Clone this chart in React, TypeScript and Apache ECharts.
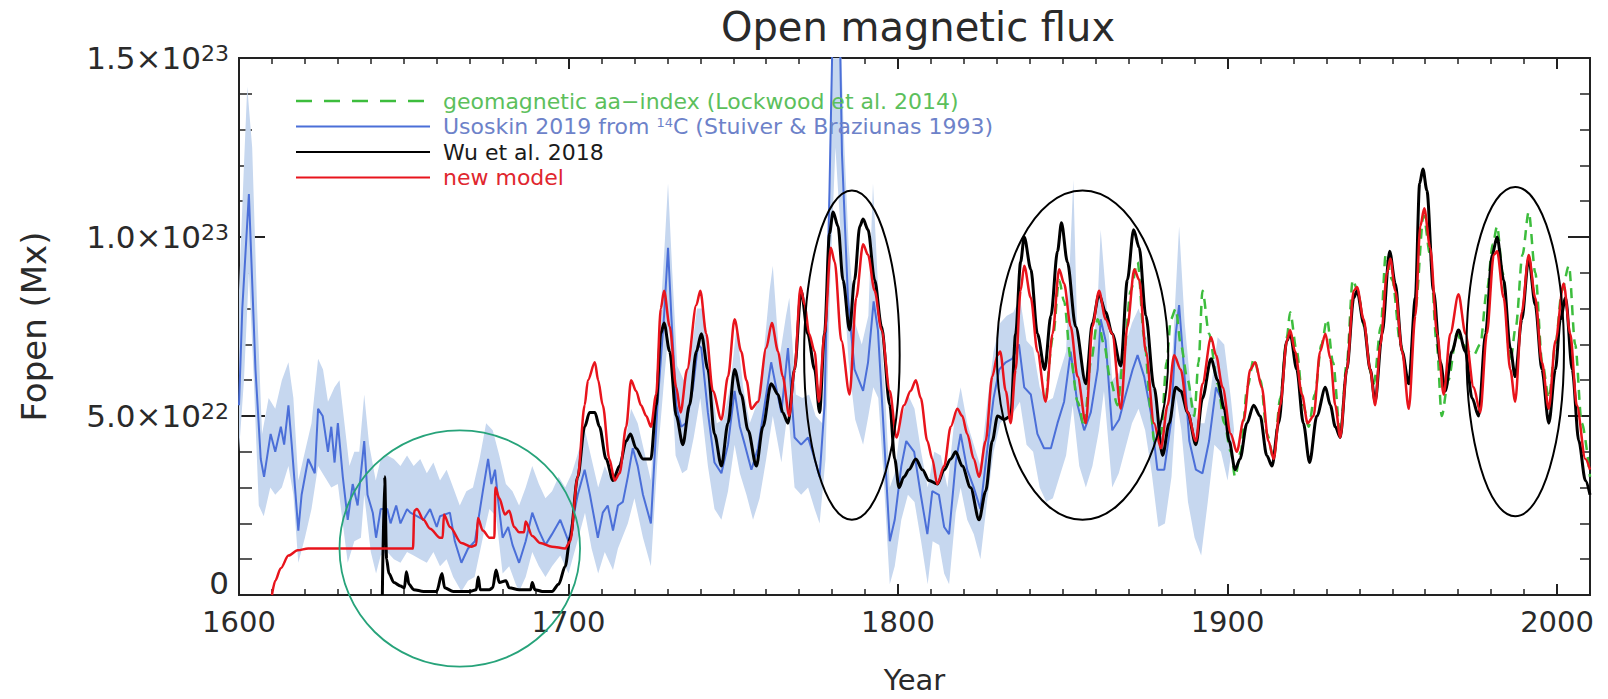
import React, { useEffect, useRef } from 'react';
import * as echarts from 'echarts';

// values are in units of 1e22 Mx
const UNIT = 1e22;

const yearTicks = [1600, 1700, 1800, 1900, 2000];

const usoskin: [number, number][] = [
  [1600, 5.3], [1601, 8.0], [1603, 11.2], [1605, 6.3], [1606.6, 3.8], [1607.6, 3.3], [1609.6, 4.5], [1611, 4.0],
  [1612.7, 4.7], [1613.7, 4.2], [1615, 5.3], [1616, 4.2], [1618, 1.8], [1619, 2.8], [1621, 3.8], [1623, 3.4],
  [1624, 5.2], [1625.4, 5.0], [1627, 4.0], [1628, 4.7], [1629, 3.7], [1630, 4.8], [1631.5, 3.3], [1633, 2.1],
  [1634.5, 3.1], [1636, 2.5], [1638, 4.3], [1639, 2.8], [1640.6, 2.3], [1641.6, 1.6], [1643, 2.4], [1645, 2.4],
  [1646, 2.0], [1647.7, 2.5], [1649, 2.0], [1651, 2.4], [1652, 2.3], [1654, 2.2], [1656, 2.1], [1658, 2.4],
  [1660, 1.9], [1661, 2.2], [1664, 2.3], [1665.5, 1.5], [1667.5, 0.9], [1669.5, 1.3], [1671.6, 1.5], [1674, 2.9],
  [1675.6, 3.8], [1676.6, 3.1], [1677.7, 3.5], [1678.7, 2.6], [1680, 1.6], [1681.7, 1.9], [1683, 1.4], [1685, 0.9],
  [1687, 1.5], [1689, 2.3], [1691, 1.8], [1693, 1.4], [1695, 1.7], [1697.5, 2.1], [1700, 1.5], [1702.8, 2.8],
  [1704.9, 3.5], [1706.5, 2.8], [1708.9, 1.6], [1710.4, 2.3], [1711.9, 2.5], [1713.5, 1.8], [1715, 2.5], [1716.5, 2.6],
  [1718, 3.3], [1719.5, 4.1], [1721, 3.6], [1722.6, 2.8], [1725, 2.0], [1727, 5.3], [1729, 7.8], [1730.2, 9.7],
  [1731.2, 7.8], [1732.7, 5.3], [1734.2, 4.7], [1735.7, 4.8], [1737.8, 5.8], [1739.3, 7.0], [1740.3, 6.9], [1742.3, 5.1],
  [1744.3, 3.7], [1746.4, 3.4], [1748.4, 4.2], [1750.4, 5.7], [1752, 4.7], [1753.5, 4.2], [1755.5, 3.5], [1757.5, 4.1],
  [1759.5, 5.3], [1761.5, 6.5], [1763, 5.8], [1764.6, 5.1], [1766.6, 6.9], [1768.6, 4.4], [1770.6, 4.2], [1772.7, 4.4],
  [1774.7, 3.8], [1776.2, 3.3], [1777.7, 5.3], [1779.2, 11.3], [1780.2, 16], [1782.3, 16], [1783, 12.3], [1784.8, 8.3],
  [1786.8, 6.3], [1789.4, 5.7], [1790.9, 6.5], [1792.6, 8.2], [1793.9, 7.4], [1795.4, 5.0], [1797.5, 1.5], [1799, 2.1],
  [1801, 3.6], [1802.5, 4.3], [1804.9, 4.0], [1806.9, 2.8], [1808.9, 1.7], [1810.4, 2.9], [1812.4, 2.8], [1814, 1.9],
  [1815.5, 1.7], [1817.5, 3.7], [1819, 4.5], [1821, 3.5], [1823, 3.0], [1825, 2.4], [1827, 4.0], [1829, 5.5],
  [1830.7, 6.3], [1832.7, 6.5], [1834.7, 6.6], [1836.7, 7.0], [1838.3, 5.8], [1840.3, 5.6], [1842.3, 4.5], [1844.3, 4.1],
  [1846.4, 4.1], [1848.4, 4.8], [1850.4, 5.4], [1852.4, 6.8], [1854.5, 5.3], [1856.5, 4.6], [1858.5, 5.1], [1860.6, 6.3],
  [1861.5, 7.7], [1863, 7.1], [1865, 4.6], [1867.1, 4.9], [1869.1, 5.6], [1871.2, 6.3], [1872.7, 6.7], [1874.7, 6.1],
  [1876.7, 5.1], [1878.7, 3.5], [1880.8, 3.5], [1882.8, 4.8], [1884.3, 7.3], [1885.3, 8.1], [1886.8, 6.3], [1888.4, 4.3],
  [1890.4, 3.5], [1892.4, 3.4], [1894.4, 4.3], [1896.5, 5.8], [1898, 5.5],
];

const bandUpper: [number, number][] = [
  [1600, 8.5], [1601.5, 12], [1602.5, 14.2], [1604, 12.5], [1605.5, 8], [1607, 4.5], [1609, 5.5], [1611, 5.2],
  [1613, 6.0], [1615, 6.5], [1616.5, 5.5], [1618, 3.2], [1620, 4.0], [1622, 4.8], [1624, 6.6], [1625.5, 6.3],
  [1627, 5.4], [1629, 5.8], [1630.5, 6.0], [1632, 4.8], [1633.5, 3.6], [1635, 4.0], [1636.5, 4.0], [1638, 5.6],
  [1639.5, 4.2], [1641.5, 3.2], [1643, 3.8], [1645, 3.9], [1647, 3.8], [1649, 3.6], [1651, 3.9], [1653, 3.6],
  [1655, 3.8], [1657, 3.4], [1659, 3.7], [1661, 3.2], [1663, 3.5], [1665, 3.0], [1667, 2.5], [1669, 2.9],
  [1671, 3.0], [1673, 3.8], [1675, 4.8], [1677, 4.6], [1679, 3.9], [1681, 3.1], [1683, 2.9], [1685, 2.5],
  [1687, 3.0], [1689, 3.6], [1691, 3.1], [1693, 2.7], [1695, 2.9], [1697, 3.3], [1699, 3.0], [1701, 3.4],
  [1703, 4.0], [1705, 4.6], [1707, 3.8], [1709, 3.0], [1711, 3.6], [1713, 3.2], [1715, 3.6], [1717, 4.2],
  [1719, 5.2], [1721, 4.8], [1723, 4.0], [1725, 3.2], [1727, 6.5], [1729, 9.5], [1730.2, 11.5], [1731.5, 9.0],
  [1733, 6.4], [1735, 6.0], [1737, 6.6], [1739, 8.0], [1741, 8.0], [1743, 6.3], [1745, 4.8], [1747, 4.9],
  [1749, 5.8], [1751, 7.5], [1753, 5.8], [1755, 4.8], [1757, 5.3], [1759, 6.5], [1761, 8.5], [1762, 9.2],
  [1764, 6.6], [1766, 7.8], [1767, 8.3], [1769, 5.6], [1771, 5.5], [1773, 5.6], [1775, 5.0], [1777, 4.8],
  [1778.5, 8.5], [1779.5, 13.5], [1780, 16], [1782.5, 16], [1783.5, 13], [1785, 9.8], [1787, 7.6], [1789, 7.0],
  [1791, 7.8], [1792.4, 11.5], [1794, 8.5], [1796, 5.8], [1797.5, 3.0], [1799, 3.4], [1801, 4.9], [1803, 5.6],
  [1805, 5.2], [1807, 4.0], [1809, 3.0], [1811, 4.0], [1813, 3.9], [1815, 3.0], [1817, 4.8], [1819, 5.8],
  [1821, 4.8], [1823, 4.2], [1825, 3.6], [1827, 5.3], [1829, 6.8], [1831, 7.6], [1833, 7.8], [1835, 7.9],
  [1837, 8.3], [1839, 7.1], [1841, 6.9], [1843, 5.8], [1845, 5.4], [1847, 5.5], [1849, 6.2], [1851, 6.8],
  [1853.2, 11.6], [1854.5, 7.0], [1856.5, 6.0], [1858.5, 6.4], [1860.5, 8.0], [1861.5, 10.2], [1863, 8.5], [1865, 6.0],
  [1867, 6.2], [1869, 7.0], [1871, 7.6], [1873, 8.0], [1875, 7.4], [1877, 6.4], [1879, 4.8], [1881, 4.9],
  [1883, 6.2], [1885.3, 10.3], [1887, 7.6], [1889, 5.6], [1891, 4.8], [1893, 4.8], [1895, 5.8], [1897, 7.2],
  [1899, 7.0], [1901, 5.5], [1902, 4.6],
];

const bandLower: [number, number][] = [
  [1600, 4.0], [1601.5, 6.0], [1603, 9.0], [1604.5, 6.0], [1606, 2.5], [1607.5, 2.2], [1609.5, 3.0], [1611, 2.8],
  [1613, 3.0], [1615, 3.6], [1616.5, 2.8], [1618, 0.9], [1620, 1.6], [1622, 2.4], [1624, 3.6], [1626, 3.3],
  [1628, 3.0], [1630, 3.1], [1631.5, 2.0], [1633, 0.9], [1635, 1.5], [1637, 1.6], [1638, 2.8], [1640, 1.2],
  [1641.6, 0.6], [1643, 1.1], [1645, 1.2], [1647, 1.0], [1649, 0.9], [1651, 1.2], [1653, 1.1], [1655, 1.0],
  [1657, 0.9], [1659, 1.2], [1661, 0.8], [1663, 1.0], [1665, 0.5], [1667.5, 0.1], [1669.5, 0.4], [1671.5, 0.5],
  [1674, 1.6], [1676, 2.4], [1678, 2.2], [1680, 0.6], [1682, 0.8], [1684, 0.3], [1685, 0.1], [1687, 0.5],
  [1689, 1.2], [1691, 0.8], [1693, 0.5], [1695, 0.8], [1697.5, 1.1], [1700, 0.6], [1703, 1.6], [1705, 2.3],
  [1707, 1.3], [1709, 0.6], [1711, 1.2], [1713.5, 0.7], [1715, 1.3], [1718, 2.0], [1720, 2.7], [1722.6, 1.6],
  [1725, 0.8], [1727, 3.8], [1729, 6.0], [1730.5, 7.5], [1732.5, 3.9], [1734.5, 3.4], [1736, 3.5], [1738, 4.4],
  [1740, 5.5], [1742.3, 3.6], [1744.3, 2.4], [1746.4, 2.1], [1748.4, 2.9], [1750.4, 4.2], [1752, 3.4], [1754, 2.8],
  [1756, 2.1], [1758, 2.7], [1760, 3.8], [1762, 5.0], [1764.6, 3.7], [1766.6, 5.2], [1768.6, 3.0], [1770.6, 2.8],
  [1772.7, 3.0], [1774.7, 2.4], [1776.2, 2.0], [1778, 3.8], [1779.5, 9.0], [1781, 12.5], [1783, 9.5], [1785, 6.5],
  [1787, 4.9], [1789.4, 4.2], [1791, 5.0], [1792.5, 5.8], [1794, 5.5], [1795.5, 3.5], [1797.5, 0.3], [1799, 0.8],
  [1801, 2.1], [1803, 2.8], [1805, 2.6], [1807, 1.5], [1809, 0.3], [1810.5, 1.5], [1812.5, 1.4], [1814, 0.6],
  [1815.5, 0.3], [1817.5, 2.3], [1819, 3.0], [1821, 2.1], [1823, 1.7], [1825, 1.0], [1827, 2.6], [1829, 4.0],
  [1831, 4.8], [1833, 5.0], [1835, 5.1], [1837, 5.4], [1839, 4.2], [1841, 4.0], [1843, 3.0], [1845, 2.6],
  [1847, 2.7], [1849, 3.3], [1851, 3.9], [1853, 5.3], [1855, 3.6], [1857, 3.0], [1859, 3.6], [1861, 4.6],
  [1862.5, 5.7], [1865, 3.0], [1867, 3.4], [1869, 4.1], [1871, 4.8], [1873, 5.2], [1875, 4.6], [1877, 3.4],
  [1879, 1.9], [1881, 2.0], [1883, 3.3], [1884.5, 5.5], [1886, 4.6], [1888, 2.6], [1890, 1.6], [1892, 1.1],
  [1894, 2.6], [1896, 4.2], [1898, 4.0], [1900, 3.2], [1902, 4.6],
];

const wu2018: [number, number][] = [
  [1643.5, 0], [1644.2, 3.3], [1644.8, 1.0], [1645.5, 0.6], [1647, 0.35], [1649, 0.25], [1650.2, 0.2], [1650.8, 0.65],
  [1651.6, 0.3], [1653, 0.15], [1656, 0.1], [1660, 0.1], [1661.6, 0.6], [1662.4, 0.2], [1665, 0.1], [1670, 0.1],
  [1672, 0.15], [1672.6, 0.5], [1673.2, 0.15], [1676, 0.15], [1677, 0.2], [1678, 0.7], [1679, 0.35], [1681, 0.4],
  [1682, 0.2], [1685, 0.15], [1688.5, 0.15], [1689, 0.35], [1689.8, 0.15], [1692, 0.1], [1695, 0.1], [1697, 0.3],
  [1699, 0.8], [1700.5, 1.6], [1702.8, 3.3], [1704.9, 4.7], [1706.4, 5.1], [1708, 5.1], [1709.4, 4.7], [1711.4, 3.8],
  [1713.5, 3.2], [1715.5, 3.6], [1717.5, 4.3], [1718.8, 4.5], [1720.5, 4.1], [1722.6, 3.8], [1725, 3.8], [1726.6, 5.3],
  [1728, 7.3], [1729, 7.6], [1730.7, 6.8], [1732.7, 5.0], [1734.7, 4.2], [1736.7, 5.3], [1738.8, 6.8], [1740.3, 7.3],
  [1742.3, 6.3], [1744.3, 4.5], [1746.4, 3.6], [1748.4, 4.8], [1750.4, 6.3], [1752.4, 5.6], [1754.5, 4.6], [1757, 3.6],
  [1759, 4.7], [1761.5, 5.9], [1763.6, 5.6], [1765, 5.1], [1766.6, 4.8], [1768.6, 6.3], [1770.6, 8.5], [1772.6, 7.3],
  [1774.7, 6.3], [1776.2, 5.1], [1777.7, 7.3], [1779.2, 10.1], [1780.3, 10.7], [1781.8, 10.3], [1783.3, 8.8], [1785.3, 7.4],
  [1786.8, 8.8], [1788.4, 10.3], [1789.4, 10.5], [1790.9, 10.2], [1792.9, 8.8], [1795, 7.5], [1797.5, 5.3], [1799, 3.8],
  [1800.3, 3.0], [1801.8, 3.3], [1803.3, 3.5], [1805.4, 3.8], [1807.4, 3.5], [1809.4, 3.2], [1812, 3.1], [1814, 3.5],
  [1816, 3.8], [1817.5, 4.0], [1819.5, 3.6], [1822, 3.0], [1824.6, 2.1], [1826.6, 2.9], [1828.6, 4.3], [1830.2, 5.0],
  [1832.2, 4.9], [1834.2, 5.0], [1835.7, 7.3], [1837.2, 9.3], [1838.3, 10.0], [1840.3, 9.1], [1842.3, 7.3], [1844.5, 6.3],
  [1846.4, 7.8], [1848.4, 9.6], [1849.6, 10.4], [1851.4, 9.3], [1853.9, 7.5], [1857, 5.9], [1859, 7.6], [1861, 8.4],
  [1863, 7.9], [1865, 7.3], [1867.6, 6.4], [1869.6, 8.8], [1871.5, 10.2], [1873.2, 9.7], [1875.2, 7.8], [1877.7, 5.8],
  [1880.3, 3.9], [1882.3, 4.8], [1884.3, 5.8], [1885.8, 5.7], [1887.9, 5.1], [1890.4, 4.2], [1892.4, 5.5], [1895, 6.6],
  [1897, 6.0], [1899, 5.2], [1900.5, 4.3], [1902.3, 3.5], [1903.8, 3.8], [1905.9, 4.8], [1907.9, 5.3], [1909.9, 5.0],
  [1911.9, 3.9], [1913.5, 3.6], [1915.5, 4.8], [1918, 7.1], [1919, 7.3], [1921, 6.3], [1923, 4.8], [1924.9, 3.7],
  [1927.1, 5.0], [1929.7, 5.8], [1931.2, 5.3], [1932.7, 4.7], [1934.2, 4.4], [1936.2, 6.3], [1938.3, 8.3], [1939.3, 8.5],
  [1941.3, 7.6], [1943.3, 6.3], [1944.8, 5.4], [1946.9, 7.3], [1949.2, 9.6], [1950.9, 8.7], [1953, 6.8], [1955, 5.9],
  [1957, 8.3], [1958.3, 11.5], [1959.3, 11.9], [1960.5, 11.3], [1962.5, 8.5], [1964.6, 6.5], [1966.1, 5.7], [1968.1, 6.8],
  [1970.1, 7.4], [1972.2, 6.8], [1974.2, 5.5], [1976.2, 5.0], [1978.3, 7.3], [1980.3, 9.5], [1981.8, 10.0], [1983.8, 8.8],
  [1985.8, 6.9], [1987.3, 6.1], [1989.3, 7.7], [1991.4, 9.4], [1993.4, 8.1], [1995.4, 6.3], [1997.5, 4.8], [1999.5, 6.3],
  [2001, 7.7], [2002.6, 8.3], [2004.6, 6.3], [2006.6, 4.3], [2008.6, 3.2], [2010, 2.8],
];

const newModel: [number, number][] = [
  [1610, 0], [1611, 0.4], [1612.7, 0.75], [1615, 1.1], [1617.8, 1.25], [1621, 1.3], [1652.8, 1.3], [1653.2, 2.35],
  [1654, 2.4], [1656, 2.1], [1658, 1.85], [1661, 1.6], [1661.8, 1.6], [1662.2, 2.25], [1664, 1.9], [1667.5, 1.45],
  [1670.5, 1.35], [1672, 1.4], [1672.5, 2.15], [1674, 1.8], [1676, 1.6], [1677.5, 1.6], [1677.8, 3.0], [1679, 2.7],
  [1680.7, 2.25], [1682, 2.35], [1683.5, 1.9], [1685, 1.75], [1686.5, 1.75], [1687, 2.05], [1689, 1.65], [1691.4, 1.45],
  [1695, 1.35], [1699, 1.3], [1700.5, 1.5], [1702.8, 3.3], [1704.9, 5.3], [1705.9, 6.0], [1708, 6.5], [1709, 6.0],
  [1710.4, 5.3], [1712.4, 3.8], [1714, 3.2], [1715.5, 3.4], [1717.5, 4.7], [1719, 6.0], [1720.5, 5.7], [1722, 5.3],
  [1723.6, 5.0], [1725, 4.7], [1726.6, 5.6], [1728, 8.0], [1729, 8.5], [1730.7, 7.5], [1732.7, 5.8], [1734, 5.1],
  [1736, 6.3], [1738.8, 8.1], [1740, 8.5], [1741.8, 7.3], [1743.8, 5.7], [1746.4, 4.9], [1748.4, 6.1], [1750.4, 7.7],
  [1752.4, 6.8], [1754, 6.0], [1755.5, 5.2], [1757.5, 5.4], [1760, 6.9], [1761.7, 7.6], [1763.6, 6.8], [1765, 6.1],
  [1767, 5.0], [1768.6, 6.3], [1770.4, 8.6], [1771.7, 8.1], [1773, 7.3], [1774.7, 6.8], [1776, 5.4], [1777.7, 7.3],
  [1779.6, 9.7], [1780.8, 9.3], [1782.8, 7.1], [1785.3, 5.6], [1787.3, 8.3], [1789.4, 9.8], [1790.9, 9.5], [1792.9, 8.5],
  [1795, 7.4], [1797.5, 5.7], [1799.5, 4.4], [1801.8, 5.3], [1803.8, 5.7], [1805.4, 6.0], [1806.9, 5.5], [1808.9, 4.3],
  [1810.4, 3.8], [1811.9, 3.1], [1814, 3.6], [1816, 4.7], [1818, 5.2], [1819.5, 5.0], [1821, 4.5], [1823, 3.8],
  [1824.6, 3.3], [1826.6, 4.3], [1828.6, 6.1], [1830.2, 6.7], [1831, 6.8], [1832.7, 5.7], [1834.2, 4.8], [1835.7, 6.3],
  [1837.2, 8.5], [1838.3, 9.2], [1840.3, 8.3], [1842.3, 6.8], [1844.8, 5.4], [1846.9, 7.3], [1848.9, 9.1], [1850.4, 8.7],
  [1852.4, 7.5], [1854.5, 6.1], [1857, 4.8], [1859, 7.5], [1861, 8.5], [1863, 7.7], [1865, 7.3], [1867.6, 5.2],
  [1869.6, 7.5], [1871.7, 9.1], [1873.2, 8.8], [1875.2, 6.8], [1877.7, 4.8], [1879.8, 4.1], [1881.8, 5.3], [1883.8, 6.7],
  [1885.8, 6.3], [1887.9, 5.1], [1890.4, 4.3], [1892.4, 5.9], [1895, 7.2], [1896.5, 6.7], [1898.5, 5.8], [1901, 4.5],
  [1902.8, 4.0], [1904.9, 4.9], [1906.9, 6.3], [1908.4, 6.5], [1910.4, 5.8], [1912.4, 4.3], [1914, 3.8], [1916, 5.3],
  [1918, 7.1], [1919, 7.4], [1920.5, 6.8], [1922.6, 5.6], [1924.3, 4.8], [1926.1, 5.0], [1928.1, 6.8], [1929.7, 7.3],
  [1931.2, 6.6], [1932.7, 5.3], [1934.2, 4.4], [1936.2, 6.3], [1938.3, 8.5], [1939.3, 8.6], [1941.3, 7.7], [1943.3, 6.3],
  [1944.8, 5.3], [1946.4, 7.0], [1948.4, 9.0], [1949.4, 9.4], [1950.9, 8.5], [1953, 6.8], [1955, 5.2], [1957, 7.8],
  [1958.5, 10.3], [1959.7, 10.8], [1961.5, 9.7], [1963.6, 7.3], [1965.6, 5.6], [1967.6, 7.3], [1970.1, 8.4], [1972.2, 7.3],
  [1974.7, 5.8], [1976.7, 5.1], [1978.7, 7.3], [1980.8, 9.5], [1981.8, 9.6], [1983.8, 8.3], [1985.8, 6.3], [1987.3, 5.4],
  [1989.3, 7.9], [1991.4, 9.5], [1993.4, 8.3], [1995.4, 6.5], [1997.5, 5.2], [1999.5, 7.1], [2002, 8.7], [2004, 7.3],
  [2006, 5.3], [2008.6, 3.8], [2010, 3.5],
];

const aaIndex: [number, number][] = [
  [1845, 5.5], [1847, 7.2], [1848.9, 8.8], [1850.4, 8.2], [1852.4, 6.6], [1854.5, 5.4], [1856.5, 4.7], [1858.5, 6.5],
  [1860.6, 7.7], [1862.5, 7.0], [1864.5, 6.0], [1866.6, 5.3], [1868.6, 6.8], [1870.6, 8.5], [1872.7, 9.3], [1874.7, 7.2],
  [1876.7, 5.2], [1877.7, 4.3], [1879.8, 4.5], [1881.5, 6.5], [1882.8, 7.7], [1884.3, 8.0], [1885.8, 7.0], [1887.9, 6.0],
  [1889.9, 5.0], [1891.2, 6.5], [1892.4, 8.5], [1894.4, 7.3], [1897, 5.9], [1899, 4.8], [1901, 4.0], [1902.3, 3.3],
  [1904, 4.0], [1906, 5.8], [1908, 6.6], [1910, 6.0], [1912, 4.5], [1914, 3.8], [1916, 5.5], [1918, 7.2],
  [1919, 7.9], [1921, 6.8], [1923, 5.3], [1924.6, 4.7], [1926.5, 5.6], [1928.5, 7.0], [1930.2, 7.7], [1932, 6.5],
  [1934.2, 4.5], [1936.2, 6.5], [1938, 8.8], [1939.5, 8.5], [1941.5, 7.5], [1943.5, 6.2], [1944.4, 5.9], [1946.5, 7.5],
  [1948, 9.5], [1950, 8.8], [1952.5, 7.0], [1955, 5.9], [1957, 8.0], [1959.5, 10.6], [1961.5, 9.5], [1963.5, 7.0],
  [1965, 5.0], [1967, 6.0], [1969.6, 7.3], [1971.5, 7.0], [1973, 6.8], [1974.7, 6.7], [1976.7, 7.0], [1978.7, 8.5],
  [1980.5, 9.8], [1981.8, 10.3], [1983.5, 9.0], [1985.8, 6.5], [1987.5, 7.5], [1989.5, 9.5], [1991.4, 10.7], [1993.4, 9.0],
  [1995.5, 6.5], [1997.5, 5.5], [1999.5, 7.0], [2001.5, 8.5], [2003.6, 9.2], [2005.5, 7.0], [2007.5, 4.8], [2010, 3.3],
];

// annotation ellipses in data coordinates: centre year, centre value, half-width (years), half-height (1e22)
const greenCircle = { cx: 1667, cy: 1.3, rx: 36.5, ry: 3.3 };
const blackEllipses = [
  { cx: 1786, cy: 6.7, rx: 14.5, ry: 4.6 },
  { cx: 1856, cy: 6.7, rx: 26, ry: 4.6 },
  { cx: 1987.3, cy: 6.8, rx: 14.8, ry: 4.6 },
];

const legendItems = [
  { text: 'geomagnetic aa−index (Lockwood et al. 2014)', color: '#3dbd3d', textColor: '#5cbf5c', dashed: true },
  { text: '{n|Usoskin 2019 from }{s|14}{n|C (Stuiver & Braziunas 1993)}', color: '#4b6fd8', textColor: '#6d82c9', dashed: false },
  { text: 'Wu et al. 2018', color: '#000000', textColor: '#1a1a1a', dashed: false },
  { text: 'new model', color: '#e8141c', textColor: '#e0262e', dashed: false },
];

const FONT = "'DejaVu Sans', sans-serif";
const TXT = '#2a2a2a';

const toMx = (arr: [number, number][]) => arr.map(([x, y]) => [x, y * UNIT]);

const yLabel = (v: number) => {
  if (v === 0) return '{z|0}';
  const e = Math.floor(Math.log10(v) + 1e-9);
  const m = (v / Math.pow(10, e)).toFixed(1);
  return `{m|${m}×10}{s|${e}}`;
};

export default function App() {
  const ref = useRef<HTMLDivElement>(null);
  useEffect(() => {
    const chart = echarts.init(ref.current as HTMLDivElement, undefined, { renderer: 'svg' });
    const axisLine = { show: true, lineStyle: { color: '#222', width: 2 } };
    const xBase = { type: 'value', min: 1600, max: 2010, axisLine, splitLine: { show: false } };
    const yBase = { type: 'value', min: 0, max: 1.5e23, interval: 5e22, axisLine, splitLine: { show: false } };
    const lineCommon = {
      type: 'line',
      xAxisIndex: 0,
      yAxisIndex: 0,
      showSymbol: false,
      symbol: 'none',
      clip: true,
    };
    const option: any = {
      animation: false,
      backgroundColor: '#ffffff',
      title: {
        text: 'Open magnetic flux',
        left: 913,
        top: 2,
        textAlign: 'center',
        textStyle: { fontFamily: FONT, fontSize: 40, fontWeight: 'normal', color: TXT },
      },
      grid: { left: 239, right: 18, top: 58, bottom: 97, containLabel: false },
      xAxis: [
        {
          ...xBase,
          position: 'bottom',
          interval: 100,
          axisTick: { show: true, inside: true, length: 11, lineStyle: { color: '#222', width: 2 } },
          axisLabel: {
            show: true,
            margin: 12,
            fontFamily: FONT,
            fontSize: 29,
            color: TXT,
            formatter: (v: number) => (yearTicks.includes(v) ? String(v) : ''),
          },
          name: 'Year',
          nameLocation: 'middle',
          nameGap: 70,
          nameTextStyle: { fontFamily: FONT, fontSize: 29, color: TXT },
        },
        {
          ...xBase,
          position: 'bottom',
          interval: 10,
          axisTick: { show: true, inside: true, length: 6, lineStyle: { color: '#222', width: 1.5 } },
          axisLabel: { show: false },
        },
        {
          ...xBase,
          position: 'top',
          interval: 100,
          axisTick: { show: true, inside: true, length: 11, lineStyle: { color: '#222', width: 2 } },
          axisLabel: { show: false },
        },
        {
          ...xBase,
          position: 'top',
          interval: 10,
          axisTick: { show: true, inside: true, length: 6, lineStyle: { color: '#222', width: 1.5 } },
          axisLabel: { show: false },
        },
      ],
      yAxis: [
        {
          ...yBase,
          position: 'left',
          axisTick: { show: true, inside: true, length: 26, lineStyle: { color: '#222', width: 2 } },
          minorTick: { show: true, splitNumber: 5, length: 13, lineStyle: { color: '#222', width: 1.5 } },
          axisLabel: {
            show: true,
            margin: 10,
            formatter: yLabel,
            rich: {
              m: { fontFamily: FONT, fontSize: 31, color: TXT },
              s: { fontFamily: FONT, fontSize: 22, color: TXT, verticalAlign: 'top' },
              z: { fontFamily: FONT, fontSize: 31, color: TXT, lineHeight: 31, padding: [0, 0, 24, 0] },
            },
          },
          name: 'Fopen (Mx)',
          nameLocation: 'middle',
          nameGap: 188,
          nameRotate: 90,
          nameTextStyle: { fontFamily: FONT, fontSize: 34, color: TXT },
        },
        {
          ...yBase,
          position: 'right',
          axisTick: { show: true, inside: true, length: 22, lineStyle: { color: '#222', width: 2 } },
          minorTick: { show: true, splitNumber: 5, length: 10, lineStyle: { color: '#222', width: 1.5 } },
          axisLabel: { show: false },
        },
      ],
      series: [
        {
          type: 'custom',
          name: 'Usoskin 2019 uncertainty',
          xAxisIndex: 0,
          yAxisIndex: 0,
          clip: true,
          silent: true,
          z: 1,
          data: [[1750, 0]],
          encode: { x: 0, y: 1 },
          renderItem: (_params: any, api: any) => {
            const up = bandUpper.map(([x, y]) => api.coord([x, y * UNIT]));
            const low = bandLower.slice().reverse().map(([x, y]) => api.coord([x, y * UNIT]));
            return {
              type: 'polygon',
              shape: { points: up.concat(low) },
              style: { fill: '#c6d7ef', stroke: 'none' },
            };
          },
        },
        {
          ...lineCommon,
          name: 'Usoskin 2019 from 14C (Stuiver & Braziunas 1993)',
          data: toMx(usoskin),
          z: 2,
          lineStyle: { color: '#4b6fd8', width: 2 },
        },
        {
          ...lineCommon,
          name: 'geomagnetic aa-index (Lockwood et al. 2014)',
          data: toMx(aaIndex),
          smooth: 0.3,
          smoothMonotone: 'x',
          z: 3,
          lineStyle: { color: '#3dbd3d', width: 2.5, type: [10, 7] },
        },
        {
          ...lineCommon,
          name: 'Wu et al. 2018',
          data: toMx(wu2018),
          smooth: 0.3,
          smoothMonotone: 'x',
          z: 4,
          lineStyle: { color: '#000000', width: 3 },
        },
        {
          ...lineCommon,
          name: 'new model',
          data: toMx(newModel),
          smooth: 0.3,
          smoothMonotone: 'x',
          z: 5,
          lineStyle: { color: '#e8141c', width: 2.5 },
        },
      ],
    };
    chart.setOption(option);

    const px = (x: number, y: number) =>
      chart.convertToPixel({ xAxisIndex: 0, yAxisIndex: 0 }, [x, y * UNIT]) as number[];
    const ell = (e: { cx: number; cy: number; rx: number; ry: number }, color: string, width: number) => {
      const c = px(e.cx, e.cy);
      const r = px(e.cx + e.rx, e.cy + e.ry);
      return {
        type: 'ellipse',
        z: 100,
        silent: true,
        shape: { cx: c[0], cy: c[1], rx: Math.abs(r[0] - c[0]), ry: Math.abs(c[1] - r[1]) },
        style: { fill: 'none', stroke: color, lineWidth: width },
      };
    };
    const graphics: any[] = [];
    graphics.push(ell(greenCircle, '#27a37a', 1.8));
    blackEllipses.forEach((e) => graphics.push(ell(e, '#000000', 2)));
    const rowY = [101, 126.5, 152, 177.5];
    legendItems.forEach((it, i) => {
      graphics.push({
        type: 'line',
        z: 100,
        silent: true,
        shape: { x1: 296, y1: rowY[i], x2: 430, y2: rowY[i] },
        style: { stroke: it.color, lineWidth: it.dashed ? 2.5 : 2, lineDash: it.dashed ? [16, 12] : null },
      });
      graphics.push({
        type: 'text',
        z: 100,
        silent: true,
        x: 443,
        y: rowY[i],
        style: {
          text: it.text,
          fill: it.textColor,
          fontFamily: FONT,
          fontSize: 22,
          verticalAlign: 'middle',
          align: 'left',
          rich: {
            n: { fontFamily: FONT, fontSize: 22, fill: it.textColor },
            s: { fontFamily: FONT, fontSize: 13, fill: it.textColor, verticalAlign: 'top' },
          },
        },
      });
    });
    chart.setOption({ graphic: graphics });
    return () => chart.dispose();
  }, []);
  return (
    <div
      ref={ref}
      style={{ position: 'fixed', left: 0, top: 0, width: 1608, height: 699, background: '#ffffff' }}
    />
  );
}
